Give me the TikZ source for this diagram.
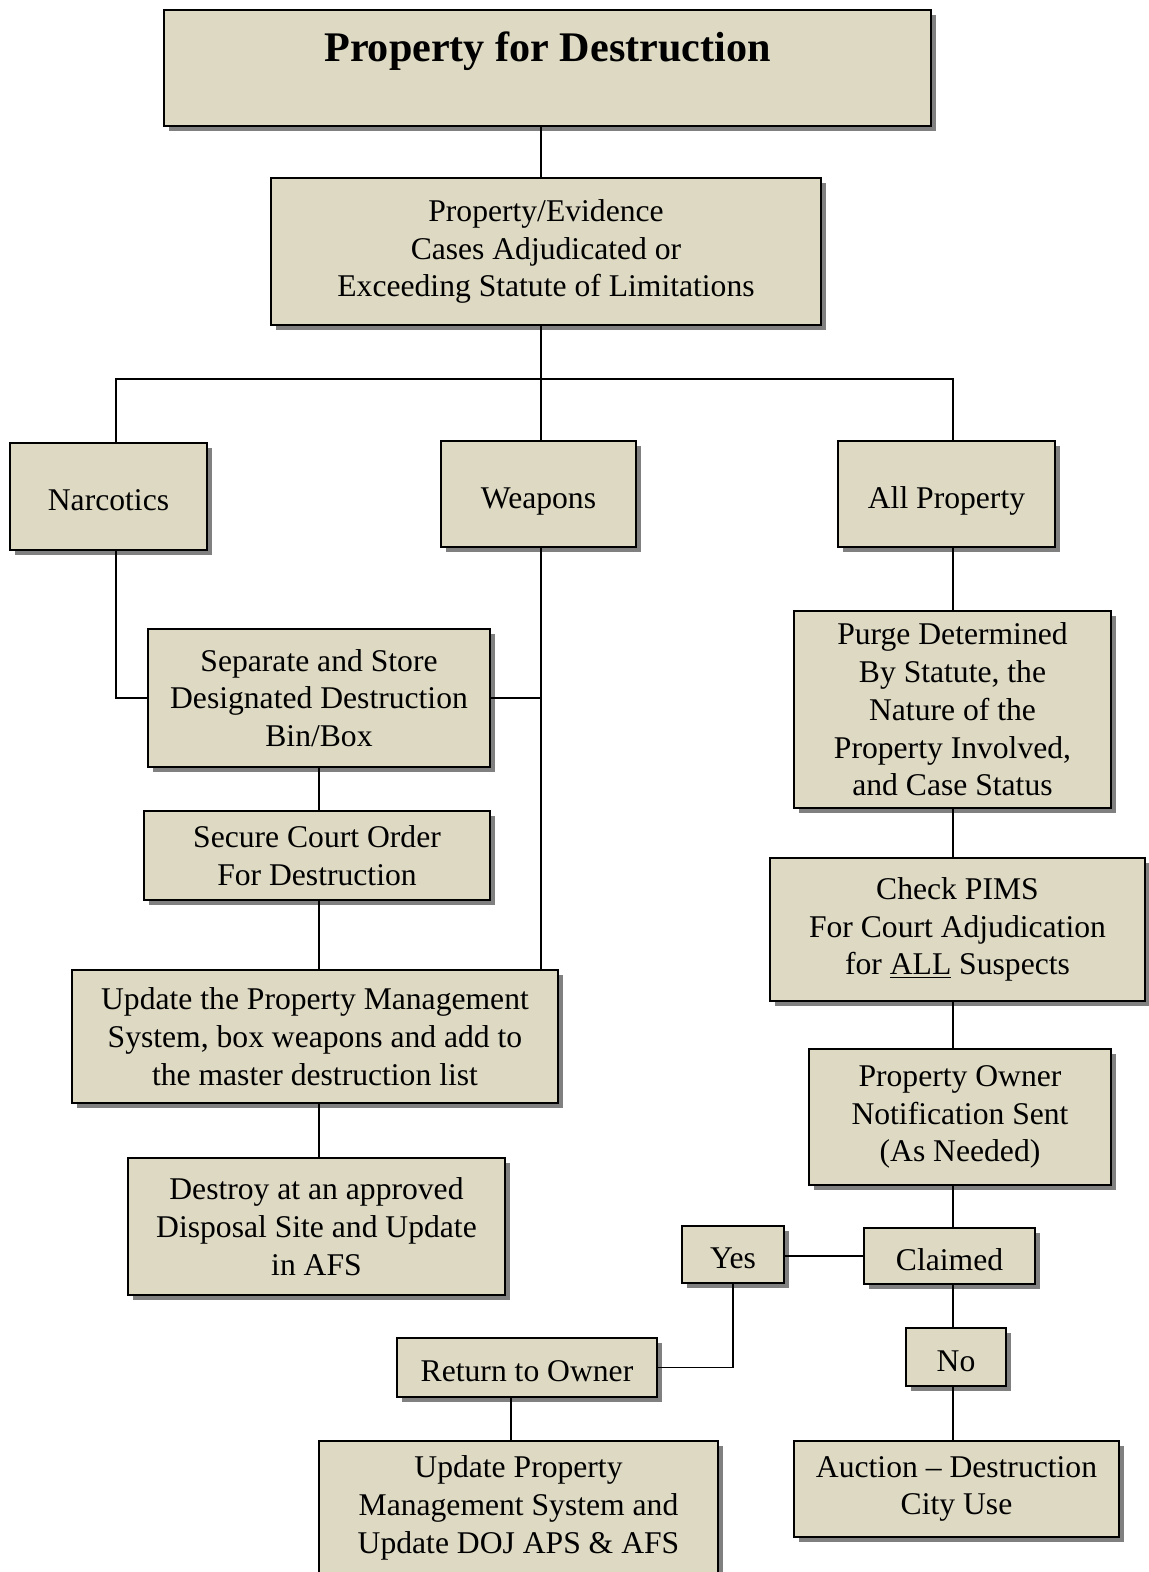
\documentclass[tikz,border=0pt]{standalone}
\usepackage{fontspec}
\setmainfont{Liberation Serif}
\usetikzlibrary{shadows}
\definecolor{boxtan}{HTML}{DDD9C3}
\tikzset{
  box/.style={draw, line width=1pt, fill=boxtan, align=center, inner sep=0pt,
    font=\fontsize{18}{21.5}\selectfont,
    drop shadow={shadow xshift=0.1cm, shadow yshift=-0.1cm, fill=black!50, opacity=1}},
  oneline/.style={text height=19pt, text depth=3pt},
  link/.style={line width=1pt}
}

\begin{document}
\begin{tikzpicture}[x=0.02cm, y=-0.02cm]
    \path[use as bounding box, clip] (0,0) rectangle (1149,1572);

    % top of the chart
    \node[box, minimum width=15.34cm, minimum height=2.32cm,
      font=\fontsize{24}{28}\selectfont\bfseries, text height=17pt, text depth=24pt
      ](title) at (547.5,68) {Property for Destruction};
    \node[box, minimum width=11cm, minimum height=2.94cm](cases) at (546,251.5)
      {Property/Evidence\\ Cases Adjudicated or\\ Exceeding Statute of Limitations};

    % the three kinds
    \node[box, oneline, minimum width=3.94cm, minimum height=2.14cm](narc) at (108.5,496.5) {Narcotics};
    \node[box, oneline, minimum width=3.9cm, minimum height=2.12cm](weap) at (538.5,494) {Weapons};
    \node[box, oneline, minimum width=4.34cm, minimum height=2.12cm](allp) at (946.5,494) {All Property};

    % left column
    \node[box, minimum width=6.84cm, minimum height=2.76cm](sep) at (319,698)
      {Separate and Store\\ Designated Destruction\\ Bin/Box};
    \node[box, minimum width=6.92cm, minimum height=1.78cm](court) at (317,855.5)
      {Secure Court Order\\ For Destruction};
    \node[box, minimum width=9.72cm, minimum height=2.66cm](pms) at (315,1036.5)
      {Update the Property Management\\ System, box weapons and add to\\ the master destruction list};
    \node[box, minimum width=7.54cm, minimum height=2.74cm](destroy) at (316.5,1226.5)
      {Destroy at an approved\\ Disposal Site and Update\\ in AFS};

    % right column
    \node[box, minimum width=6.34cm, minimum height=3.94cm](purge) at (952.5,709.5)
      {Purge Determined\\ By Statute, the\\ Nature of the\\ Property Involved,\\ and Case Status};
    \node[box, minimum width=7.5cm, minimum height=2.86cm](pims) at (957.5,929.5)
      {Check PIMS\\ For Court Adjudication\\ for \underline{ALL} Suspects};
    \node[box, minimum width=6.04cm, minimum height=2.72cm](notify) at (960,1117)
      {Property Owner\\ Notification Sent\\ (As Needed)};
    \node[box, oneline, minimum width=3.42cm, minimum height=1.12cm](claimed) at (949.5,1256) {Claimed};
    \node[box, oneline, minimum width=2.04cm, minimum height=1.14cm](yes) at (733,1254.5) {Yes};
    \node[box, oneline, minimum width=2cm, minimum height=1.16cm](no) at (956,1357) {No};
    \node[box, oneline, minimum width=5.2cm, minimum height=1.18cm](return) at (527,1367.5) {Return to Owner};
    \node[box, minimum width=6.5cm, minimum height=1.92cm](auction) at (956.5,1489)
      {Auction -- Destruction\\ City Use};
    \node[box, minimum width=7.98cm, minimum height=2.68cm](final) at (518.5,1508)
      {Update Property\\ Management System and\\ Update DOJ APS \& AFS};

    % where the lines run
    \coordinate (split) at (541,379);
    \coordinate (nl) at (116,379);
    \coordinate (ar) at (953,379);
    \coordinate (lcol) at (319,0);
    \coordinate (retx) at (511,0);

    \draw[link] (title.south -| split) -- (cases.north -| split);
    \draw[link] (cases.south -| split) -- (weap.north -| split);
    \draw[link] (narc.north -| nl) -- (nl) -- (ar) -- (allp.north -| ar);

    \draw[link] (narc.south -| nl) |- (sep.west);
    \draw[link] (weap.south -| split) -- (pms.north -| split);
    \draw[link] (sep.east) -- (sep.east -| split);
    \draw[link] (sep.south -| lcol) -- (court.north -| lcol);
    \draw[link] (court.south -| lcol) -- (pms.north -| lcol);
    \draw[link] (pms.south -| lcol) -- (destroy.north -| lcol);

    \draw[link] (allp.south -| ar) -- (purge.north -| ar);
    \draw[link] (purge.south -| ar) -- (pims.north -| ar);
    \draw[link] (pims.south -| ar) -- (notify.north -| ar);
    \draw[link] (notify.south -| ar) -- (claimed.north -| ar);
    \draw[link] (claimed.west) -- (yes.east |- claimed.west);
    \draw[link] (claimed.south -| ar) -- (no.north -| ar);
    \draw[link] (no.south -| ar) -- (auction.north -| ar);
    \draw[link] (yes.south) |- (return.east);
    \draw[link] (return.south -| retx) -- (final.north -| retx);
\end{tikzpicture}
\end{document}
